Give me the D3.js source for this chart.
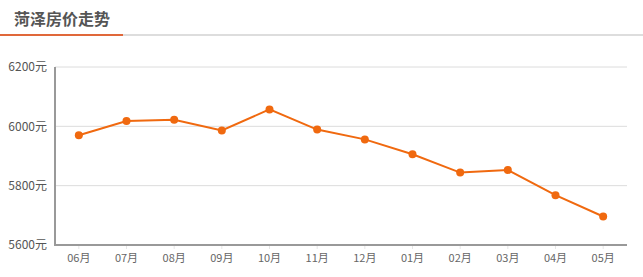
<!DOCTYPE html>
<html>
<head>
<meta charset="utf-8">
<script src="https://cdn.jsdelivr.net/npm/d3@7"></script>
<style>
  body { margin: 0; background: #fff; }
  svg { display: block; font-family: "Microsoft YaHei", "Noto Sans CJK SC", sans-serif; }
</style>
</head>
<body>
<div id="main"></div>
<script>
const ctx = {
    w: 643,
    h: 277
};

// data
const months = ['06月', '07月', '08月', '09月', '10月', '11月', '12月', '01月', '02月', '03月', '04月', '05月'];
const prices = [5970, 6018, 6022, 5986, 6057, 5989, 5956, 5906, 5844, 5853, 5768, 5696];
const yTicks = [5600, 5800, 6000, 6200];
const titleText = '菏泽房价走势';

function createViz() {
    const svg = d3.select("#main").append("svg")
        .attr("width", ctx.w)
        .attr("height", ctx.h);

    // header
    svg.append("line")
        .attr("x1", 0).attr("x2", ctx.w)
        .attr("y1", 35).attr("y2", 35)
        .attr("stroke", "#dddddd").attr("stroke-width", 2);
    svg.append("line")
        .attr("x1", 0).attr("x2", 123)
        .attr("y1", 35).attr("y2", 35)
        .attr("stroke", "#e0683a").attr("stroke-width", 2);
    svg.append("text")
        .attr("x", 14).attr("y", 25)
        .attr("font-size", "16px")
        .attr("font-weight", "bold")
        .attr("fill", "#555")
        .text(titleText);

    const margin = { top: 67, right: 16, bottom: 32, left: 55 };
    const width = ctx.w - margin.left - margin.right;
    const height = ctx.h - margin.top - margin.bottom;

    const g = svg.append("g").attr("transform", `translate(${margin.left},${margin.top})`);

    const x = d3.scaleBand().domain(months).range([0, width]);
    const y = d3.scaleLinear().domain([5600, 6200]).range([height, 0]);

    // grid
    g.append("g")
        .selectAll("line")
        .data(yTicks.slice(1))
        .enter().append("line")
        .attr("x1", 0).attr("x2", width)
        .attr("y1", d => y(d)).attr("y2", d => y(d))
        .attr("stroke", "#dcdcdc").attr("stroke-width", 1);

    // y labels
    g.append("g")
        .selectAll("text")
        .data(yTicks)
        .enter().append("text")
        .attr("x", -8)
        .attr("y", d => y(d))
        .attr("dy", "0.35em")
        .attr("text-anchor", "end")
        .attr("font-size", "12px")
        .attr("fill", "#555")
        .text(d => d + "元");

    // x axis
    const xAxis = g.append("g")
        .attr("transform", `translate(0,${height})`)
        .call(d3.axisBottom(x).tickSize(4).tickSizeOuter(0));
    xAxis.select(".domain").remove();
    xAxis.selectAll(".tick line").attr("stroke", "#e6e6e6");
    xAxis.selectAll(".tick text")
        .attr("font-size", "11px")
        .attr("fill", "#666")
        .attr("dy", "0.9em")
        .attr("font-family", "\"Microsoft YaHei\", \"Noto Sans CJK SC\", sans-serif");

    // axis lines
    g.append("line")
        .attr("x1", 0).attr("x2", width)
        .attr("y1", height).attr("y2", height)
        .attr("stroke", "#999").attr("stroke-width", 2);
    g.append("line")
        .attr("x1", 0).attr("x2", 0)
        .attr("y1", 0).attr("y2", height + 1)
        .attr("stroke", "#999").attr("stroke-width", 2);

    const cx = d => x(d) + x.bandwidth() / 2;

    const line = d3.line()
        .x((d, i) => cx(months[i]))
        .y(d => y(d));

    g.append("path")
        .datum(prices)
        .attr("fill", "none")
        .attr("stroke", "#f0690f")
        .attr("stroke-width", 2)
        .attr("d", line);

    g.append("g")
        .selectAll("circle")
        .data(prices)
        .enter().append("circle")
        .attr("cx", (d, i) => cx(months[i]))
        .attr("cy", d => y(d))
        .attr("r", 4)
        .attr("fill", "#f0690f");
}

createViz();
</script>
</body>
</html>
